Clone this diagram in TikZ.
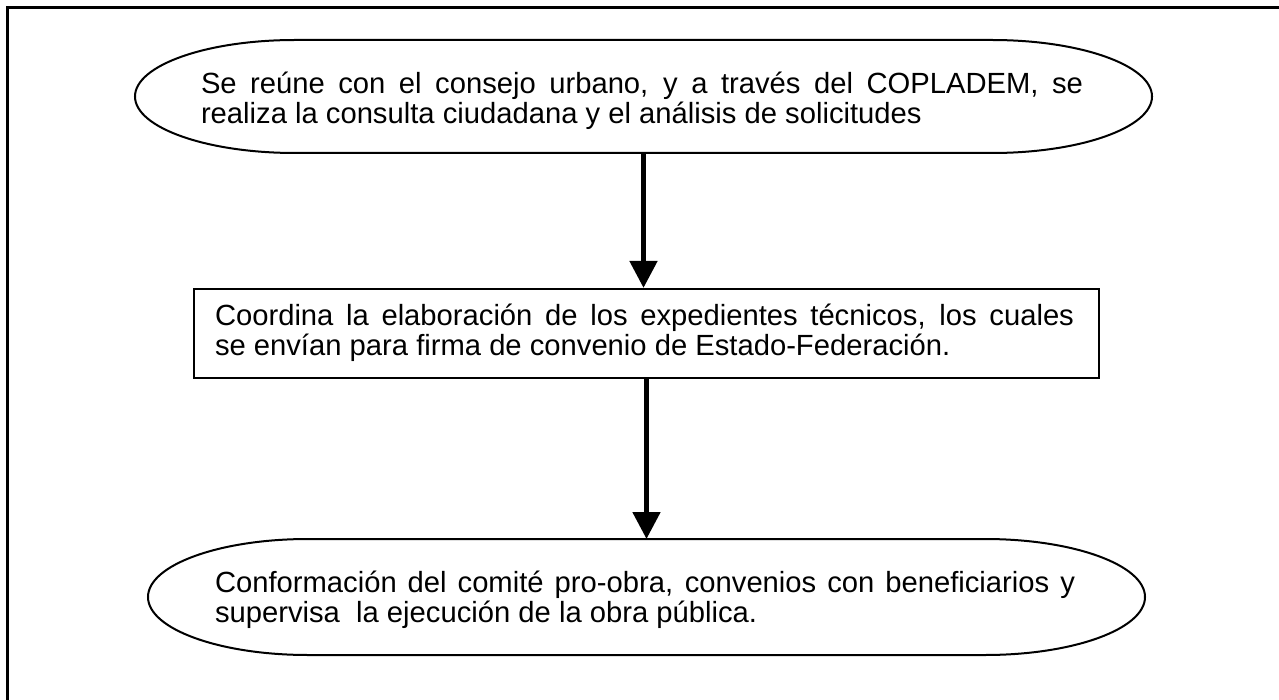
\documentclass[tikz,border=0pt]{standalone}
\usepackage{fontspec}
\setmainfont{Liberation Sans}
\usepackage{tikz}
\usetikzlibrary{arrows.meta}
\tikzset{>={Triangle[width=13.5pt,length=13.5pt]}}
\tikzstyle{ovalo}=[
	 rectangle,
	 outer sep=0pt,
	 inner sep=0pt
    ]
\tikzstyle{caja}=[rectangle, draw, line width=1.1pt, inner sep=0pt]
\tikzstyle{texto}=[inner sep=0pt, align=justify, font=\fontsize{14.6}{15.2}\selectfont]
\newcommand{\pOvalo}[2]{\draw[line width=1pt] ([xshift=80pt]#1.north west) -- ([xshift=-80pt]#1.north east) arc[start angle=90, end angle=-90, x radius=80pt, y radius=#2] -- ([xshift=80pt]#1.south west) arc[start angle=270, end angle=90, x radius=80pt, y radius=#2] -- cycle}
\newcommand{\pFlecha}[2]{\draw[->, line width=2.5pt] (#1.south) -- (#1.south |- #2.north)}

\begin{document}
\begin{tikzpicture}[x=0.5pt,y=-0.5pt]
\clip (0,0) rectangle (1279,700);
\draw[line width=1.75pt] (7.5,7.5) rectangle (1300,720);

\node[ovalo, minimum width=508.5pt, minimum height=56.5pt] (consulta) at (643.5,96.5) {};
\pOvalo{consulta}{28.25pt};
\node[texto, text width=441pt] (consultaT) at (642,101)
  {Se reúne con el consejo urbano, y a través del COPLADEM, se\linebreak realiza la consulta ciudadana y el análisis de solicitudes};

\node[caja, minimum width=452.5pt, minimum height=44.5pt] (expediente) at (646.5,333.5) {};
\node[texto, text width=429.5pt] (expedienteT) at (644.5,333)
  {Coordina la elaboración de los expedientes técnicos, los cuales\linebreak se envían para firma de convenio de Estado-Federación.};

\node[ovalo, minimum width=498.5pt, minimum height=58pt] (comite) at (646.5,597) {};
\pOvalo{comite}{29pt};
\node[texto, text width=430pt] (comiteT) at (645,600)
  {Conformación del comité pro-obra, convenios con beneficiarios y\linebreak supervisa\ \ la ejecución de la obra pública.};

\pFlecha{consulta}{expediente};
\pFlecha{expediente}{comite};

\end{tikzpicture}
\end{document}
